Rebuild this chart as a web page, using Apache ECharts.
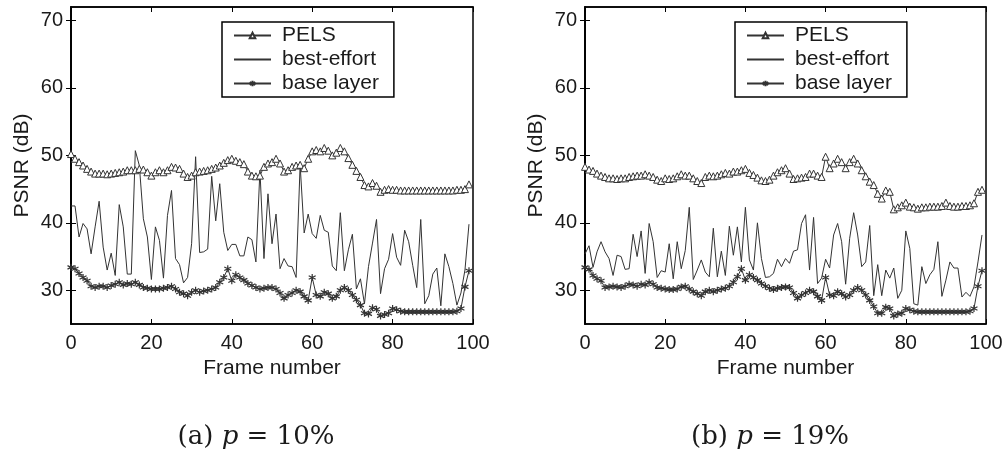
<!DOCTYPE html>
<html>
<head>
<meta charset="utf-8">
<script src="https://cdn.jsdelivr.net/npm/echarts@6/dist/echarts.min.js"></script>
<style>
html,body{margin:0;padding:0;background:#fff;}
#c{width:1006px;height:455px;}
</style>
</head>
<body>
<div id="c"></div>
<script>
// ---- data (frames 0..99) ----
var xTicks = [0, 20, 40, 60, 80, 100];
var yTicks = [30, 40, 50, 60, 70];
var seriesNames = ['PELS', 'best-effort', 'base layer'];
var captions = ['(a)', '(b)'];
var pValues = ['10%', '19%'];

var pelsA = [50.2,49.5,49.0,48.5,48.0,47.6,47.3,47.3,47.3,47.2,
47.3,47.4,47.5,47.6,47.8,47.8,47.8,48.0,47.9,47.5,
47.0,47.5,47.8,47.5,47.8,48.3,48.2,48.0,47.3,46.8,
47.0,47.5,47.6,47.7,47.8,48.0,48.2,48.5,48.9,49.3,
49.5,49.2,49.0,48.7,47.6,47.0,46.9,47.0,48.3,48.8,
49.0,49.5,48.8,47.6,47.8,48.3,48.5,48.6,48.1,49.5,
50.6,50.8,50.6,51.1,50.7,50.0,50.4,51.1,50.6,49.6,
48.6,47.7,46.8,45.6,45.4,45.9,45.5,44.6,44.9,45.0,
44.9,44.9,44.8,44.8,44.8,44.8,44.8,44.8,44.8,44.8,
44.8,44.8,44.8,44.8,44.8,44.8,44.9,44.9,45.0,45.7];

var beA = [42.5,42.5,37.9,39.9,39.1,35.4,39.4,43.2,36.4,33.0,
35.5,32.2,42.7,39.4,32.4,32.4,50.7,48.5,40.6,37.9,
31.6,39.4,37.4,31.8,41.1,44.8,34.7,33.8,31.1,31.9,
36.9,49.8,35.6,35.7,36.1,46.9,40.3,45.8,38.6,35.9,
36.8,36.8,35.1,35.1,37.9,37.5,34.2,47.8,34.7,44.3,
36.9,41.3,33.2,34.7,33.6,33.5,31.9,48.6,38.5,41.3,
38.4,37.7,41.1,38.9,38.6,33.6,32.9,41.5,32.9,36.0,
38.3,30.2,31.7,28.0,33.5,37.0,40.5,29.5,33.2,34.6,
38.4,34.9,33.7,38.9,37.2,33.7,30.4,40.5,28.0,29.2,
32.4,33.3,27.7,35.4,33.5,31.0,27.8,29.6,33.0,39.8];

var baseA = [33.4,33.2,32.5,31.9,31.4,30.6,30.4,30.6,30.6,30.4,
30.7,30.9,31.2,30.8,31.0,30.9,31.2,30.8,30.4,30.3,
30.2,30.2,30.2,30.3,30.4,30.6,30.2,29.7,29.5,29.2,
29.7,30.0,29.7,29.9,30.0,30.2,30.4,31.2,31.9,33.2,
31.4,32.3,31.9,31.5,31.0,30.7,30.4,30.2,30.3,30.4,
30.4,30.2,29.6,28.8,29.3,29.6,30.0,29.8,29.1,28.5,
31.9,29.3,29.1,29.7,29.5,28.8,29.1,30.0,30.4,30.0,
29.3,28.6,27.8,26.6,26.5,27.4,27.2,26.2,26.4,26.6,
27.3,27.1,26.9,26.8,26.8,26.8,26.8,26.8,26.8,26.8,
26.8,26.8,26.8,26.8,26.8,26.8,26.9,27.3,30.5,32.9];

var pelsB = [48.3,47.9,47.7,47.3,47.0,46.8,46.6,46.6,46.5,46.6,
46.6,46.8,46.9,47.0,47.0,47.2,47.0,46.8,46.4,46.2,
46.6,46.5,46.6,46.9,47.2,47.0,47.0,46.6,46.2,45.9,
46.8,47.0,46.9,47.0,47.2,47.4,47.3,47.6,47.6,47.8,
48.0,47.4,47.1,46.7,46.3,46.2,46.4,47.0,47.5,47.8,
48.1,47.3,46.5,46.6,46.7,46.8,47.3,47.3,47.0,46.8,
49.8,48.1,48.8,49.5,49.0,48.1,49.0,49.5,48.8,47.8,
46.9,46.1,45.6,44.3,43.6,44.8,44.6,42.0,42.3,42.6,
43.0,42.4,42.3,42.1,42.3,42.3,42.4,42.4,42.4,42.5,
43.0,42.5,42.4,42.4,42.5,42.5,42.6,42.9,44.6,44.9];

var beB = [35.4,36.6,33.4,35.7,37.2,35.7,34.7,32.2,35.2,35.0,
33.1,33.2,38.3,35.0,38.8,32.5,39.9,37.2,31.9,32.9,
32.7,36.9,31.7,37.2,33.2,35.9,42.3,31.6,33.0,34.5,
32.7,32.0,39.2,32.0,35.8,32.2,39.5,35.2,39.4,34.2,
42.3,34.5,33.0,40.0,34.7,31.9,32.0,32.5,34.6,33.5,
34.7,34.0,35.8,36.0,39.9,41.2,33.0,40.8,31.0,31.8,
34.6,33.3,38.2,39.9,37.2,30.9,37.7,41.5,38.2,33.5,
34.2,39.6,29.2,33.8,29.2,33.0,31.8,33.3,28.8,30.0,
38.8,36.2,28.0,27.8,33.5,31.0,32.3,33.1,37.2,29.1,
31.5,34.2,33.3,33.3,29.0,29.7,29.1,30.5,34.2,38.2];

var baseB = [33.4,33.1,32.2,31.7,31.4,30.4,30.5,30.6,30.5,30.4,
30.6,30.9,30.8,30.6,30.9,30.8,31.2,30.9,30.4,30.3,
30.2,30.1,30.1,30.2,30.5,30.6,30.2,29.8,29.5,29.2,
29.8,30.0,29.8,30.0,30.2,30.3,30.6,31.2,32.0,33.2,
31.5,32.3,31.9,31.5,31.0,30.6,30.3,30.1,30.3,30.4,
30.5,30.4,29.6,28.8,29.3,29.6,30.0,29.8,29.1,28.5,
31.9,29.3,29.2,29.8,29.5,29.0,29.3,30.0,30.4,30.0,
29.3,28.5,27.6,26.6,26.6,27.5,27.3,26.2,26.5,26.6,
27.3,27.1,26.9,26.8,26.8,26.8,26.8,26.8,26.8,26.8,
26.8,26.8,26.8,26.8,26.8,26.8,26.9,27.3,30.6,32.9];

// ---- build chart ----
function pairs(arr){ return arr.map(function(v,i){ return [i, v]; }); }
var FONT = 'Liberation Sans, Arial, sans-serif';
var INK = '#1a1a1a';
var LINE = '#333';
var STAR = 'path://M0,-5L0,5M-4.33,-2.5L4.33,2.5M-4.33,2.5L4.33,-2.5';

var grids = [
  {left: 71, right: 533, top: 7, bottom: 131},
  {left: 585, right: 20, top: 7, bottom: 131}
];

var xAxes = [], yAxes = [], series = [], legends = [];
var dataSets = [[pelsA, beA, baseA], [pelsB, beB, baseB]];
var legendLeft = [222, 735];

grids.forEach(function(g, gi){
  g.show = true; g.borderColor = '#000'; g.borderWidth = 1.5;
  var xBase = {gridIndex: gi, type: 'value', min: 0, max: 100, interval: 20,
    splitLine: {show: false},
    axisLine: {show: true, lineStyle: {color: '#000', width: 1.5}},
    axisTick: {show: true, inside: true, length: 5, lineStyle: {color: '#000', width: 1}}};
  xAxes.push(Object.assign({}, xBase, {position: 'bottom',
    axisLabel: {show: true, fontSize: 20, color: INK, fontFamily: FONT, margin: 9},
    name: 'Frame number', nameLocation: 'middle', nameGap: 34,
    nameTextStyle: {fontSize: 21, color: INK, fontFamily: FONT}}));
  xAxes.push(Object.assign({}, xBase, {position: 'top', axisLabel: {show: false}}));
  var yBase = {gridIndex: gi, type: 'value', min: 25, max: 72,
    splitLine: {show: false},
    axisLine: {show: true, lineStyle: {color: '#000', width: 1.5}},
    axisTick: {show: true, inside: true, length: 5, customValues: yTicks, lineStyle: {color: '#000', width: 1}}};
  yAxes.push(Object.assign({}, yBase, {position: 'left',
    axisLabel: {show: true, fontSize: 20, color: INK, fontFamily: FONT, margin: 8, customValues: yTicks},
    name: 'PSNR (dB)', nameLocation: 'middle', nameGap: 38,
    nameTextStyle: {fontSize: 21, color: INK, fontFamily: FONT}}));
  yAxes.push(Object.assign({}, yBase, {position: 'right', axisLabel: {show: false}}));

  var ds = dataSets[gi];
  series.push({type: 'line', name: seriesNames[0], xAxisIndex: gi*2, yAxisIndex: gi*2,
    data: pairs(ds[0]), symbol: 'triangle', symbolSize: 7, showAllSymbol: true, z: 4,
    lineStyle: {color: LINE, width: 1}, itemStyle: {color: '#fff', borderColor: LINE, borderWidth: 1}});
  series.push({type: 'line', name: seriesNames[1], xAxisIndex: gi*2, yAxisIndex: gi*2,
    data: pairs(ds[1]), symbol: 'none', showSymbol: false, z: 2,
    lineStyle: {color: LINE, width: 1}, itemStyle: {color: LINE}});
  series.push({type: 'line', name: seriesNames[2], xAxisIndex: gi*2, yAxisIndex: gi*2,
    data: pairs(ds[2]), symbol: STAR, symbolSize: 7, showAllSymbol: true, z: 3,
    lineStyle: {color: LINE, width: 1}, itemStyle: {color: LINE, borderColor: LINE, borderWidth: 1.2}});

  legends.push({left: legendLeft[gi], top: 22, orient: 'vertical',
    data: [
      {name: seriesNames[0]},
      {name: seriesNames[1], itemStyle: {opacity: 0}},
      {name: seriesNames[2]}
    ],
    itemWidth: 37, itemHeight: 7, itemGap: 3, padding: [3, 15, 3, 11],
    borderColor: '#000', borderWidth: 1.5, backgroundColor: '#fff', selectedMode: false,
    textStyle: {fontSize: 21, color: INK, fontFamily: FONT, padding: [0, 0, 0, 6]}});
});

var capX = [256, 770];
var graphics = capX.map(function(x, i){
  return {type: 'text', x: x, y: 437, style: {
    text: '{n|' + captions[i] + ' }{i|p}{n| = ' + pValues[i] + '}',
    align: 'center', verticalAlign: 'middle',
    rich: {
      n: {fontFamily: 'DejaVu Serif, serif', fontSize: 26, fill: INK},
      i: {fontFamily: 'DejaVu Serif, serif', fontStyle: 'italic', fontSize: 26, fill: INK}
    }}};
});

var chart = echarts.init(document.getElementById('c'), null, {renderer: 'canvas'});
chart.setOption({
  animation: false,
  backgroundColor: '#fff',
  grid: grids,
  xAxis: xAxes,
  yAxis: yAxes,
  legend: legends,
  series: series,
  graphic: graphics
});
</script>
</body>
</html>
